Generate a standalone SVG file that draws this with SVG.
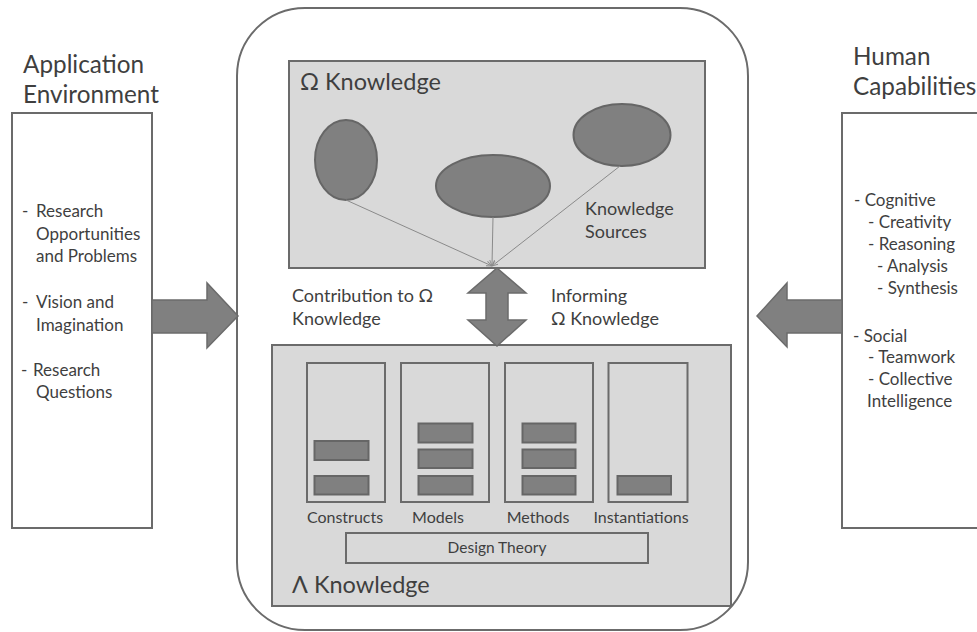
<svg xmlns="http://www.w3.org/2000/svg" width="977" height="632" viewBox="0 0 977 632">
<style>
text{font-family:Lato,"Open Sans","Liberation Sans",sans-serif;fill:#3f3f3f}
.title{font-size:24.3px}
.big{font-size:23.5px}
.t18{font-size:18px}
.t17{font-size:17px}
.t16{font-size:16px}
.t15{font-size:15.5px}
.box{fill:#ffffff;stroke:#6b6b6b;stroke-width:2}
.gbox{fill:#d9d9d9;stroke:#6b6b6b;stroke-width:2}
.dark{fill:#808080;stroke:#666;stroke-width:2}
.arrow{fill:#808080;stroke:#6b6b6b;stroke-width:1.5;stroke-linejoin:miter}
.thin{stroke:#8a8a8a;stroke-width:1;fill:none}
</style>
<defs>
<marker id="ah" viewBox="0 0 10 10" refX="10" refY="5" markerWidth="6" markerHeight="6" orient="auto">
<path d="M0,1 L10,5 L0,9" fill="none" stroke="#8a8a8a" stroke-width="1.5"/>
</marker>
</defs>

<g id="application-environment">
<text class="title" x="23" y="73">Application</text>
<text class="title" x="23" y="103">Environment</text>
<rect class="box" x="12" y="113" width="140" height="415"/>
<text class="t17" x="22" y="217">-</text><text class="t17" x="36" y="217">Research</text>
<text class="t17" x="36" y="240">Opportunities</text>
<text class="t17" x="36" y="262">and Problems</text>
<text class="t17" x="22" y="308">-</text><text class="t17" x="36" y="308">Vision and</text>
<text class="t17" x="36" y="331">Imagination</text>
<text class="t17" x="21" y="376">-</text><text class="t17" x="33" y="376">Research</text>
<text class="t17" x="36" y="398">Questions</text>
</g>

<g id="human-capabilities">
<text class="title" x="853" y="65">Human</text>
<text class="title" x="853" y="95">Capabilities</text>
<rect class="box" x="842" y="113" width="150" height="415"/>
<text class="t17" x="854" y="206">- Cognitive</text>
<text class="t17" x="868" y="228">- Creativity</text>
<text class="t17" x="868" y="250">- Reasoning</text>
<text class="t17" x="877" y="272">- Analysis</text>
<text class="t17" x="877" y="294">- Synthesis</text>
<text class="t17" x="853" y="342">- Social</text>
<text class="t17" x="868" y="363">- Teamwork</text>
<text class="t17" x="868" y="385">- Collective</text>
<text class="t17" x="867" y="407">Intelligence</text>
</g>

<g id="core">
<rect x="237" y="8" width="511" height="622" rx="68" ry="68" fill="none" stroke="#6b6b6b" stroke-width="2"/>
</g>

<g id="omega-knowledge">
<rect class="gbox" x="289" y="61" width="416" height="207"/>
<text class="big" x="300" y="90">Ω Knowledge</text>
<ellipse class="dark" cx="346" cy="160" rx="31" ry="40"/>
<ellipse class="dark" cx="493" cy="186" rx="57" ry="31"/>
<ellipse class="dark" cx="622" cy="135" rx="48.5" ry="31"/>
<text class="t18" x="585" y="215">Knowledge</text>
<text class="t18" x="585" y="238">Sources</text>
</g>

<g id="lambda-knowledge">
<rect class="gbox" x="272" y="345" width="459" height="261"/>
<g id="constructs">
<rect class="gbox" x="307" y="363" width="78" height="139"/>
<rect class="dark" x="314.5" y="441" width="54" height="19"/>
<rect class="dark" x="314.5" y="476" width="54" height="18.5"/>
<text class="t16" x="345" y="523" text-anchor="middle">Constructs</text>
</g>
<g id="models">
<rect class="gbox" x="401" y="363" width="88" height="139"/>
<rect class="dark" x="418.5" y="423.5" width="54" height="19"/>
<rect class="dark" x="418.5" y="449.5" width="54" height="18.5"/>
<rect class="dark" x="418.5" y="476" width="54" height="18.5"/>
<text class="t16" x="438" y="523" text-anchor="middle">Models</text>
</g>
<g id="methods">
<rect class="gbox" x="505" y="363" width="88" height="139"/>
<rect class="dark" x="522.5" y="423.5" width="53" height="19"/>
<rect class="dark" x="522.5" y="449.5" width="53" height="18.5"/>
<rect class="dark" x="522.5" y="476" width="53" height="18.5"/>
<text class="t16" x="538" y="523" text-anchor="middle">Methods</text>
</g>
<g id="instantiations">
<rect class="gbox" x="608.5" y="363" width="79" height="139"/>
<rect class="dark" x="617.5" y="476" width="53.5" height="18.5"/>
<text class="t16" x="641" y="523" text-anchor="middle">Instantiations</text>
</g>
<g id="design-theory">
<rect class="gbox" x="346" y="533" width="302" height="30"/>
<text class="t15" x="497" y="553" text-anchor="middle">Design Theory</text>
</g>
<text class="big" x="292" y="593">Λ Knowledge</text>
</g>

<g id="connectors">
<path class="arrow" d="M152,300 L207,300 L207,283 L238,316 L207,348 L207,333 L152,333 Z"/>
<path class="arrow" d="M842,300 L787,300 L787,283 L757,316 L787,347 L787,333 L842,333 Z"/>
<path class="arrow" d="M497,268 L526,293 L508,293 L508,320 L526,320 L497,346 L468,320 L486,320 L486,293 L468,293 Z"/>
<line class="thin" x1="346" y1="200" x2="492" y2="266" marker-end="url(#ah)"/>
<line class="thin" x1="493" y1="217" x2="492" y2="266" marker-end="url(#ah)"/>
<line class="thin" x1="620" y1="166" x2="492" y2="266" marker-end="url(#ah)"/>
<text class="t18" x="292" y="302">Contribution to Ω</text>
<text class="t18" x="292" y="325">Knowledge</text>
<text class="t18" x="551" y="302">Informing</text>
<text class="t18" x="551" y="325">Ω Knowledge</text>
</g>
</svg>
